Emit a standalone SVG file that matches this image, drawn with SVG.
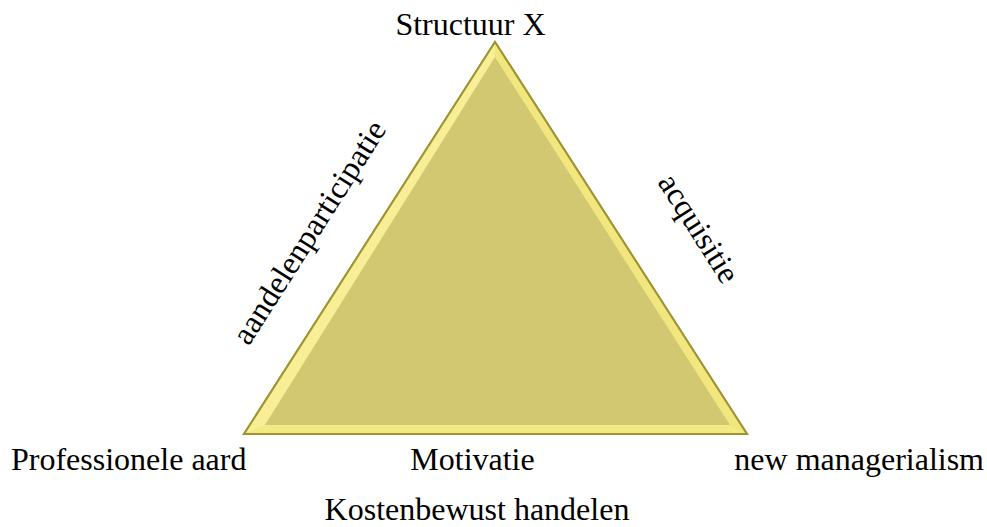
<svg xmlns="http://www.w3.org/2000/svg" width="987" height="527" viewBox="0 0 987 527">
<style>
text{font-family:"Liberation Serif","Times New Roman",serif;font-size:32px;fill:#000}
</style>
<rect width="987" height="527" fill="#fff"/>
<g id="triangle">
<polygon points="495,42 244,434 747,434" fill="#F4EA84" stroke="#9E9432" stroke-width="2" stroke-linejoin="miter"/>
<polygon points="495,42 244,434 265,425 495,57" fill="#F7EE95"/>
<polygon points="495,42 747,434 730,425 495,57" fill="#F2E77E"/>
<polygon points="495,57 265,425 730,425" fill="#D2C872"/>
<polygon points="495,42 244,434 747,434" fill="none" stroke="#9E9432" stroke-width="2"/>
</g>
<g id="labels">
<text x="470.5" y="35" text-anchor="middle">Structuur X</text>
<text x="11" y="470">Professionele aard</text>
<text x="472.5" y="470" text-anchor="middle">Motivatie</text>
<text x="984" y="470" text-anchor="end">new managerialism</text>
<text x="477" y="520" text-anchor="middle">Kostenbewust handelen</text>
<text transform="translate(318,238) rotate(-57.5)" text-anchor="middle">aandelenparticipatie</text>
<text transform="translate(690,234) rotate(57.5)" text-anchor="middle">acquisitie</text>
</g>
</svg>
